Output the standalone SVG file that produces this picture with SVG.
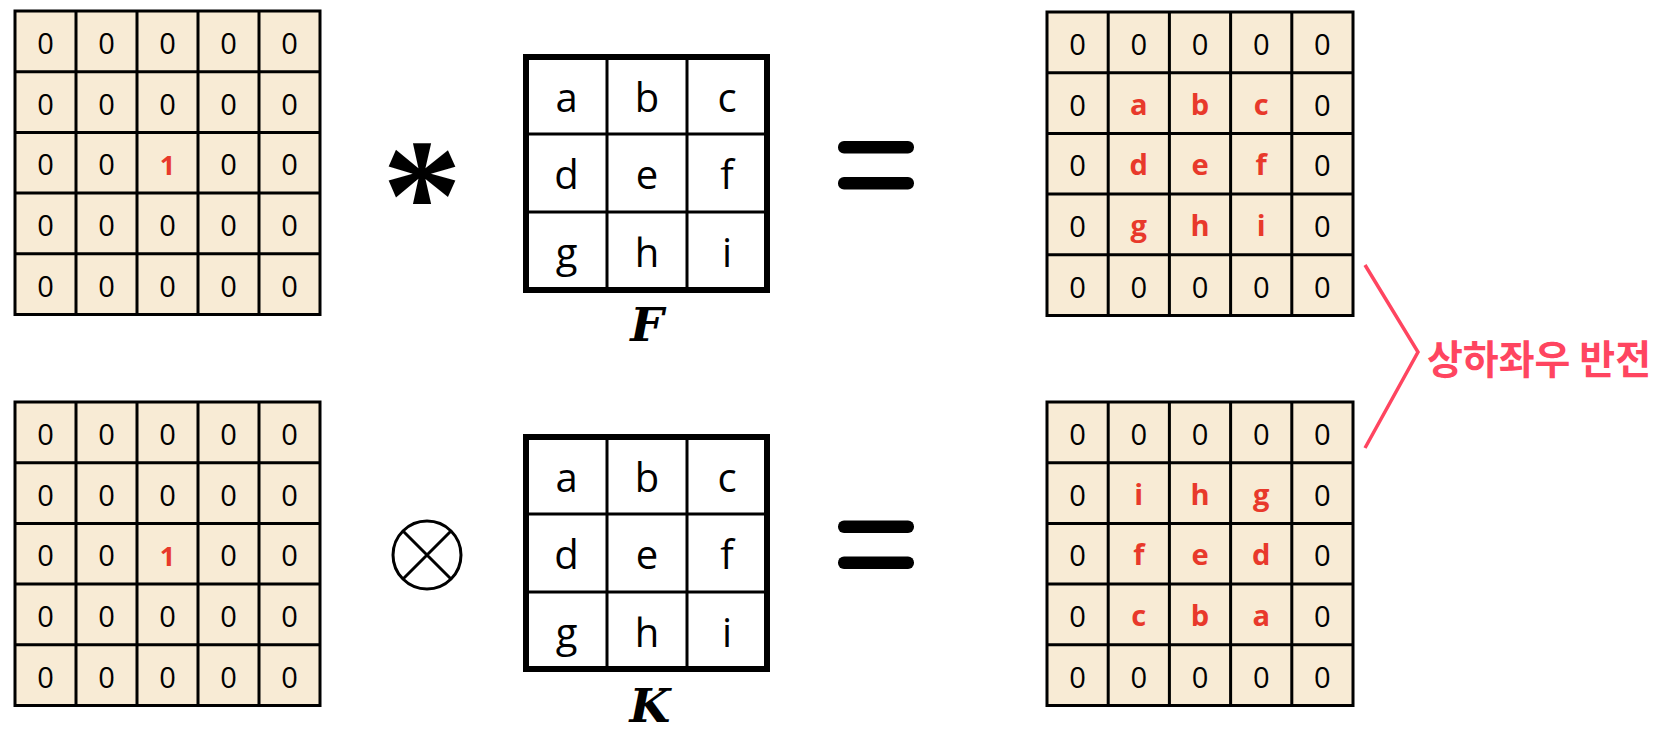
<svg xmlns="http://www.w3.org/2000/svg" xmlns:xlink="http://www.w3.org/1999/xlink" width="1664" height="734" viewBox="0 0 1664 734">
<style>
.bg{fill:#f8ebd5}
.gl{stroke:#000;stroke-width:3;fill:none}
.kl{stroke:#000;stroke-width:3;fill:none}
.kb{stroke:#000;stroke-width:6;fill:#fff}
.z{font-family:"Open Sans","Liberation Sans",sans-serif;font-size:29px;fill:#000;text-anchor:middle}
.r{font-family:"Open Sans","Liberation Sans",sans-serif;font-size:29px;font-weight:bold;fill:#e8392b;text-anchor:middle}
.one{font-family:"Open Sans","Liberation Sans",sans-serif;font-size:27px;font-weight:bold;fill:#e8392b;text-anchor:middle}
.kt{font-family:"Open Sans","Liberation Sans",sans-serif;font-size:40px;fill:#000;text-anchor:middle}
.lab{font-family:"DejaVu Serif","Liberation Serif",serif;font-size:47px;font-weight:bold;font-style:italic;fill:#000;text-anchor:middle}
.eq{fill:#000}
.br{stroke:#ff4560;stroke-width:3.5;fill:none;stroke-linejoin:miter}
.kor{font-family:"Noto Sans CJK KR",sans-serif;font-size:40px;font-weight:bold;fill:#ff4560}
</style>
<defs>
<g id="grid5">
<rect class="bg" x="0" y="0" width="305" height="303.5"/>
<path class="gl" d="M0 0H305V303.5H0Z M61 0V303.5 M122 0V303.5 M183 0V303.5 M244 0V303.5 M0 60.7H305 M0 121.4H305 M0 182.1H305 M0 242.8H305"/>
</g>
<g id="zeroRow">
<text class="z" x="30.5">0</text><text class="z" x="91.5">0</text><text class="z" x="152.5">0</text><text class="z" x="213.5">0</text><text class="z" x="274.5">0</text>
</g>
</defs>

<g id="input-top" transform="translate(15,11)">
<use xlink:href="#grid5"/>
<use xlink:href="#zeroRow" y="43"/>
<use xlink:href="#zeroRow" y="103.7"/>
<text class="z" x="30.5" y="164.4">0</text><text class="z" x="91.5" y="164.4">0</text><text class="one" x="152.5" y="164.4">1</text><text class="z" x="213.5" y="164.4">0</text><text class="z" x="274.5" y="164.4">0</text>
<use xlink:href="#zeroRow" y="225.1"/>
<use xlink:href="#zeroRow" y="285.8"/>
</g>

<g id="input-bottom" transform="translate(15,402)">
<use xlink:href="#grid5"/>
<use xlink:href="#zeroRow" y="43"/>
<use xlink:href="#zeroRow" y="103.7"/>
<text class="z" x="30.5" y="164.4">0</text><text class="z" x="91.5" y="164.4">0</text><text class="one" x="152.5" y="164.4">1</text><text class="z" x="213.5" y="164.4">0</text><text class="z" x="274.5" y="164.4">0</text>
<use xlink:href="#zeroRow" y="225.1"/>
<use xlink:href="#zeroRow" y="285.8"/>
</g>

<g id="op-conv">
<text x="422" y="250" style="font-family:'Liberation Serif',serif;font-size:160px;font-weight:bold;text-anchor:middle">*</text>
</g>

<g id="op-otimes">
<circle cx="427" cy="555" r="34" fill="none" stroke="#000" stroke-width="3"/>
<path d="M403 531L451 579M451 531L403 579" stroke="#000" stroke-width="3"/>
</g>

<g id="kernel-F">
<rect class="kb" x="526" y="57" width="241" height="233"/>
<path class="kl" d="M607 57V290M687 57V290M526 134H767M526 212H767"/>
<text class="kt" x="566.5" y="112">a</text><text class="kt" x="647" y="112">b</text><text class="kt" x="727" y="112">c</text>
<text class="kt" x="566.5" y="189">d</text><text class="kt" x="647" y="189">e</text><text class="kt" x="727" y="189">f</text>
<text class="kt" x="566.5" y="267">g</text><text class="kt" x="647" y="267">h</text><text class="kt" x="727" y="267">i</text>
<text class="lab" x="647" y="341">F</text>
</g>

<g id="kernel-K">
<rect class="kb" x="526" y="437" width="241" height="232"/>
<path class="kl" d="M607 437V669M687 437V669M526 514H767M526 592H767"/>
<text class="kt" x="566.5" y="492">a</text><text class="kt" x="647" y="492">b</text><text class="kt" x="727" y="492">c</text>
<text class="kt" x="566.5" y="569">d</text><text class="kt" x="647" y="569">e</text><text class="kt" x="727" y="569">f</text>
<text class="kt" x="566.5" y="647">g</text><text class="kt" x="647" y="647">h</text><text class="kt" x="727" y="647">i</text>
<text class="lab" x="650" y="722">K</text>
</g>

<g id="eq-top">
<rect class="eq" x="838" y="141" width="76" height="12.5" rx="6"/>
<rect class="eq" x="838" y="177" width="76" height="12.5" rx="6"/>
</g>
<g id="eq-bottom">
<rect class="eq" x="838" y="520.5" width="76" height="12.5" rx="6"/>
<rect class="eq" x="838" y="556.5" width="76" height="12.5" rx="6"/>
</g>

<g id="output-top" transform="translate(1047,12) scale(1.0033,1)">
<use xlink:href="#grid5"/>
<use xlink:href="#zeroRow" y="43"/>
<text class="z" x="30.5" y="103.7">0</text><text class="r" x="91.5" y="102.7">a</text><text class="r" x="152.5" y="102.7">b</text><text class="r" x="213.5" y="102.7">c</text><text class="z" x="274.5" y="103.7">0</text>
<text class="z" x="30.5" y="164.4">0</text><text class="r" x="91.5" y="163.4">d</text><text class="r" x="152.5" y="163.4">e</text><text class="r" x="213.5" y="163.4">f</text><text class="z" x="274.5" y="164.4">0</text>
<text class="z" x="30.5" y="225.1">0</text><text class="r" x="91.5" y="224.1">g</text><text class="r" x="152.5" y="224.1">h</text><text class="r" x="213.5" y="224.1">i</text><text class="z" x="274.5" y="225.1">0</text>
<use xlink:href="#zeroRow" y="285.8"/>
</g>

<g id="output-bottom" transform="translate(1047,402) scale(1.0033,1)">
<use xlink:href="#grid5"/>
<use xlink:href="#zeroRow" y="43"/>
<text class="z" x="30.5" y="103.7">0</text><text class="r" x="91.5" y="102.7">i</text><text class="r" x="152.5" y="102.7">h</text><text class="r" x="213.5" y="102.7">g</text><text class="z" x="274.5" y="103.7">0</text>
<text class="z" x="30.5" y="164.4">0</text><text class="r" x="91.5" y="163.4">f</text><text class="r" x="152.5" y="163.4">e</text><text class="r" x="213.5" y="163.4">d</text><text class="z" x="274.5" y="164.4">0</text>
<text class="z" x="30.5" y="225.1">0</text><text class="r" x="91.5" y="224.1">c</text><text class="r" x="152.5" y="224.1">b</text><text class="r" x="213.5" y="224.1">a</text><text class="z" x="274.5" y="225.1">0</text>
<use xlink:href="#zeroRow" y="285.8"/>
</g>

<g id="connectors">
<polyline class="br" points="1365,265 1418,352 1365,448"/>
</g>

<g id="flip-label">
<text class="kor" x="1427" y="374" textLength="224" lengthAdjust="spacingAndGlyphs">상하좌우 반전</text>
</g>
</svg>
